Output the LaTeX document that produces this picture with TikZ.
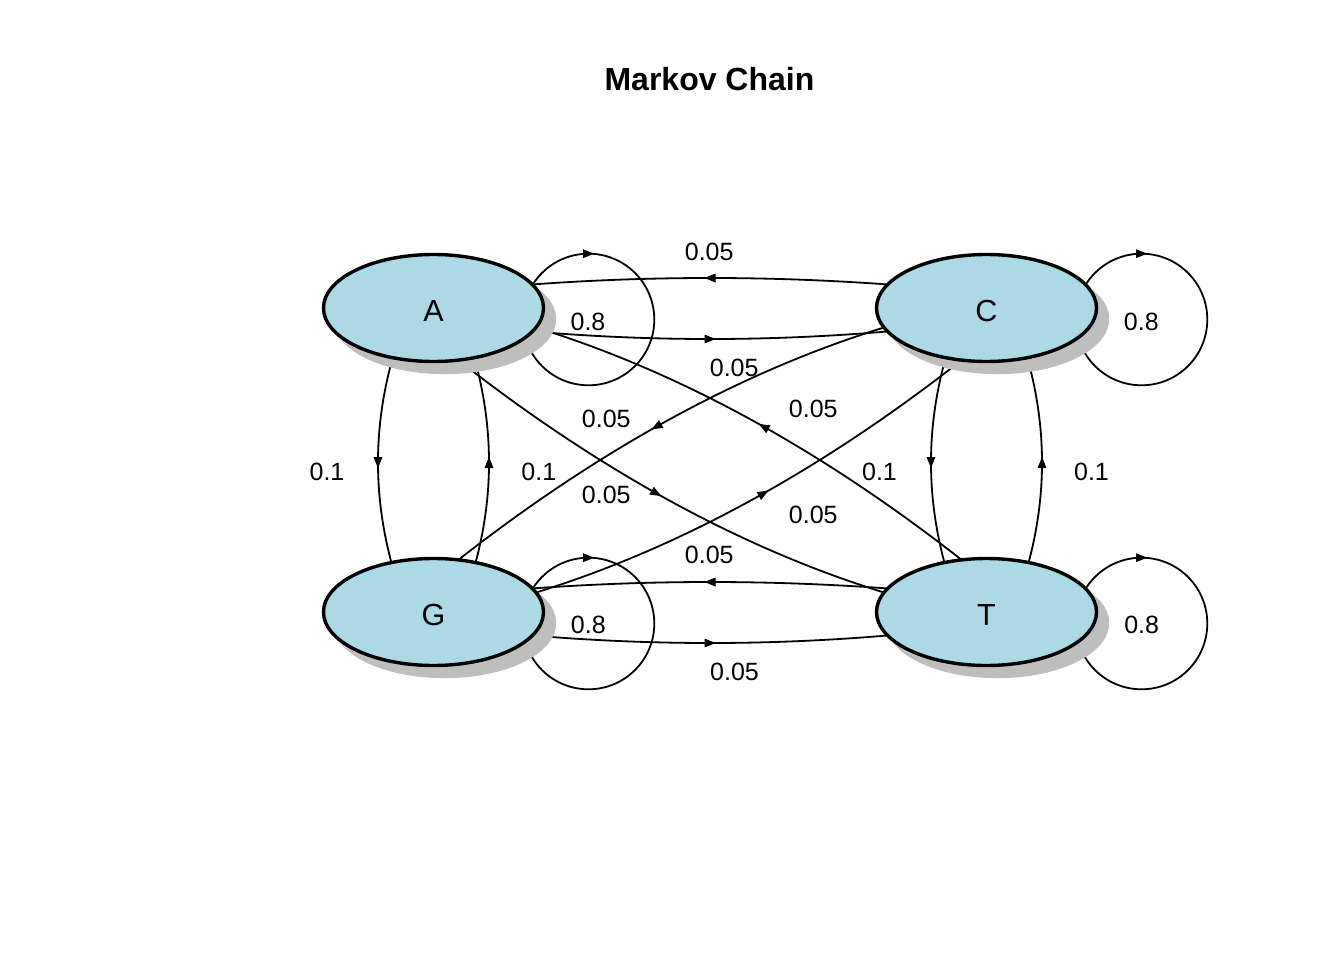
\documentclass[tikz,border=0pt]{standalone}
\usepackage{fontspec}
\setmainfont{Liberation Sans}
\usetikzlibrary{calc,shapes.geometric,shadows,decorations.markings}
\pgfdeclarelayer{bglayer}
\pgfdeclarelayer{edgelayer}
\pgfsetlayers{bglayer,edgelayer,main}
\definecolor{nodeblue}{RGB}{173,216,230}
\definecolor{shadowgray}{RGB}{190,190,190}
\begin{document}
\begin{tikzpicture}[x=1pt,y=-1pt,
  state/.style={ellipse, draw=black, line width=3.4pt, fill=nodeblue,
    minimum width=220pt, minimum height=107pt, inner sep=0pt,
    font=\fontsize{30.5}{36}\selectfont, text height=27.8pt, text depth=0pt,
    general shadow={fill=shadowgray, draw=shadowgray, line width=3.4pt,
      shadow xshift=11pt, shadow yshift=-11pt}},
  edge/.style={draw=black, line width=1.8pt},
  midarrow/.style={decoration={markings, mark=at position #1 with
    {\fill[black] (5.5pt,0pt) -- (-5.5pt,4.5pt) -- (-5.5pt,-4.5pt) -- cycle;}},
    postaction={decorate}},
  midarrow/.default=0.5,
  lbl/.style={font=\fontsize{25}{30}\selectfont, inner sep=0pt},
]
\useasboundingbox (0,0) rectangle (1344,960);
\begin{pgfonlayer}{bglayer}
  \fill[white] (0,0) rectangle (1344,960);
\end{pgfonlayer}

% title
\node[font=\fontsize{32}{38}\selectfont\bfseries, inner sep=0pt] (title) at (709.5,79) {Markov Chain};

% states
\node[state] (A) at (433.5,308) {A};
\node[state] (C) at (986.5,308) {C};
\node[state] (G) at (433.5,612) {G};
\node[state] (T) at (986.5,612) {T};

\begin{pgfonlayer}{edgelayer}
  % self loops
  \draw[edge, midarrow=0.25] ($(A)+(155,11.5)$) ++(-65.8pt,0pt) arc[start angle=180, end angle=-180, radius=65.8pt];
  \draw[edge, midarrow=0.25] ($(C)+(155,11.5)$) ++(-65.8pt,0pt) arc[start angle=180, end angle=-180, radius=65.8pt];
  \draw[edge, midarrow=0.25] ($(G)+(155,11.5)$) ++(-65.8pt,0pt) arc[start angle=180, end angle=-180, radius=65.8pt];
  \draw[edge, midarrow=0.25] ($(T)+(155,11.5)$) ++(-65.8pt,0pt) arc[start angle=180, end angle=-180, radius=65.8pt];

  % horizontal pairs
  \draw[edge, midarrow] ($(C)+(-91.5,-23)$) .. controls (771.67,275.67) and (648.33,275.67) .. ($(A)+(91.5,-23)$);
  \draw[edge, midarrow] ($(A)+(93.5,23)$) .. controls (649,341.67) and (771,341.67) .. ($(C)+(-93.5,23)$);
  \draw[edge, midarrow] ($(T)+(-91.5,-23)$) .. controls (771.67,579.67) and (648.33,579.67) .. ($(G)+(91.5,-23)$);
  \draw[edge, midarrow] ($(G)+(93.5,23)$) .. controls (649,645.67) and (771,645.67) .. ($(T)+(-93.5,23)$);

  % vertical pairs
  \draw[edge, midarrow] ($(A)+(-37,37)$) .. controls (371.83,423.33) and (371.83,501.67) .. ($(G)+(-37,-32)$);
  \draw[edge, midarrow] ($(G)+(37,-32)$) .. controls (495.17,501.67) and (495.17,423.33) .. ($(A)+(37,37)$);
  \draw[edge, midarrow] ($(C)+(-37,37)$) .. controls (924.83,423.33) and (924.83,501.67) .. ($(T)+(-37,-32)$);
  \draw[edge, midarrow] ($(T)+(37,-32)$) .. controls (1048.17,501.67) and (1048.17,423.33) .. ($(C)+(37,37)$);

  % diagonals
  \draw[edge, midarrow] ($(A)+(6.5,37.56)$) .. controls (592.33,467.96) and (744.67,551.58) .. ($(T)+(-89.5,-15.57)$);
  \draw[edge, midarrow] ($(T)+(-6.5,-37.56)$) .. controls (827.67,452.04) and (675.33,368.42) .. ($(A)+(89.5,15.57)$);
  \draw[edge, midarrow] ($(G)+(89.5,-15.57)$) .. controls (675.33,551.58) and (827.67,467.96) .. ($(C)+(-6.5,37.56)$);
  \draw[edge, midarrow] ($(C)+(-89.5,15.57)$) .. controls (744.67,368.42) and (592.33,452.04) .. ($(G)+(6.5,-37.56)$);
\end{pgfonlayer}

% loop labels
\node[lbl] (lAA) at (588,321.7) {0.8};
\node[lbl] (lCC) at (1141.3,321.7) {0.8};
\node[lbl] (lGG) at (588.3,625) {0.8};
\node[lbl] (lTT) at (1141.7,625) {0.8};

% edge labels
\node[lbl] (lCA) at (709.2,252.2) {0.05};
\node[lbl] (lAC) at (734.2,368.3) {0.05};
\node[lbl] (lTG) at (709.3,554.7) {0.05};
\node[lbl] (lGT) at (734.5,672) {0.05};
\node[lbl] (lAG) at (327,471.7) {0.1};
\node[lbl] (lGA) at (538.8,471.7) {0.1};
\node[lbl] (lCT) at (879.5,471.7) {0.1};
\node[lbl] (lTC) at (1091.5,471.7) {0.1};
\node[lbl] (lCG) at (606.3,418.7) {0.05};
\node[lbl] (lTA) at (813.3,408.7) {0.05};
\node[lbl] (lAT) at (606.3,495.3) {0.05};
\node[lbl] (lGC) at (813.3,515.3) {0.05};
\end{tikzpicture}
\end{document}
